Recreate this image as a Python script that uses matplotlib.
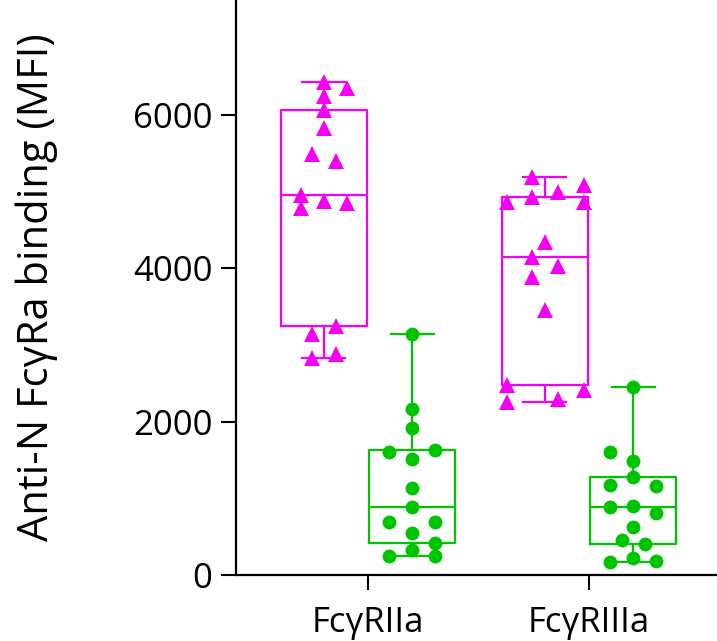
import numpy as np
import matplotlib
matplotlib.use("Agg")
from matplotlib import pyplot as plt

plt.rcParams['font.family'] = ['Open Sans', 'DejaVu Sans']

receptors = ['FcγRIIa', 'FcγRIIIa']

# MFI per donor, triangles (magenta) and circles (green)
tri_rIIa = [6436, 6349, 6249, 6067, 5828, 5488, 5401, 4958, 4792, 4883, 4849, 3249, 3144, 2883, 2827]
dot_rIIa = [3144, 2161, 1918, 1600, 1625, 1513, 1139, 891, 688, 688, 544, 413, 326, 248, 248]
tri_rIIIa = [5197, 5088, 4993, 4927, 4871, 4871, 4341, 4153, 4031, 3892, 3457, 2414, 2475, 2261, 2292]
dot_rIIIa = [2457, 1609, 1487, 1274, 1174, 1161, 891, 900, 805, 622, 457, 401, 218, 165, 187]

# horizontal spread of the points inside each box (in pixels-ish / 221)
tri_rIIa_dx = [0, 23, 0, 0, 0, -12, 12, -23, -23, 0, 23, 12, -12, 12, -12]
dot_rIIa_dx = [0, 0, 0, -23, 23, 0, 0, 0, -23, 23, 0, 23, 0, -23, 23]
tri_rIIIa_dx = [-13, 39, 13, -13, -38, 39, 0, -13, 13, -13, 0, 39, -38, -38, 13]
dot_rIIIa_dx = [0, -23, 0, 0, -23, 23, -23, 0, 23, 0, -11, 12, 0, -23, 23]

magenta = '#F500F5'
green = '#00C400'

fig = plt.figure(figsize=(7.17, 6.41), dpi=100)
ax = fig.add_axes([236 / 717, 66 / 641, 1 - 236 / 717, 1 - 66 / 641])

groups = [
    (tri_rIIa, tri_rIIa_dx, 0 - 0.2, magenta, '^'),
    (dot_rIIa, dot_rIIa_dx, 0 + 0.2, green, 'o'),
    (tri_rIIIa, tri_rIIIa_dx, 1 - 0.2, magenta, '^'),
    (dot_rIIIa, dot_rIIIa_dx, 1 + 0.2, green, 'o'),
]

for vals, dx, pos, col, mk in groups:
    v = np.array(vals, dtype=float)
    q1, med, q3 = np.percentile(v, [25, 50, 75], method='weibull')
    stats = [dict(med=med, q1=q1, q3=q3, whislo=v.min(), whishi=v.max(), fliers=[])]
    lw = 1.6
    ax.bxp(stats, positions=[pos], widths=0.39, showfliers=False,
           boxprops=dict(color=col, linewidth=lw),
           whiskerprops=dict(color=col, linewidth=lw),
           capprops=dict(color=col, linewidth=lw),
           medianprops=dict(color=col, linewidth=lw),
           manage_ticks=False, zorder=2)
    xs = pos + np.array(dx) / 221.0
    ms = 10 if mk == 'o' else 11
    ax.plot(xs, v, linestyle='none', marker=mk, color=col, markersize=ms,
            markeredgewidth=0, zorder=3, clip_on=False)

ax.set_xlim(-0.597, 1.579)
ax.set_ylim(0, 7500)
ax.set_xticks([0, 1])
ax.set_xticklabels(receptors, fontsize=25)
ax.set_yticks([0, 2000, 4000, 6000])
ax.tick_params(axis='y', labelsize=25, length=11, width=1.5, pad=6)
ax.tick_params(axis='x', length=11, width=1.5, pad=11)
ax.set_ylabel('Anti-N FcγRa binding (MFI)', fontsize=30)
ax.yaxis.set_label_coords(-0.37, 0.5)

for side in ['top', 'right']:
    ax.spines[side].set_visible(False)
for side in ['left', 'bottom']:
    ax.spines[side].set_linewidth(1.6)

fig.savefig('out.png', dpi=100)
